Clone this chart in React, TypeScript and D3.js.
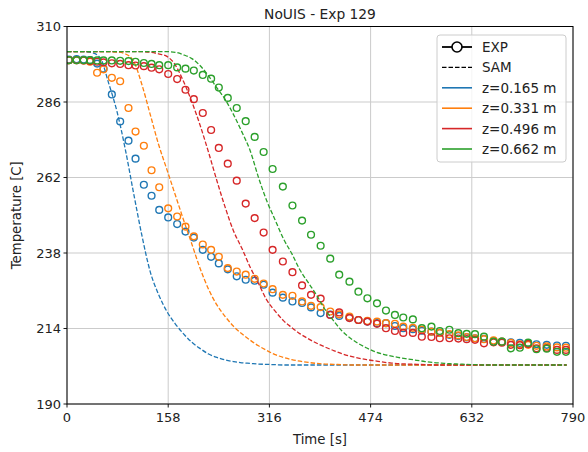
import React from "react";
import * as d3 from "d3";

// ---------- data ----------
const title = "NoUIS - Exp 129";
const xLabel = "Time [s]";
const yLabel = "Temperature [C]";
const xTicks = [0, 158, 316, 474, 632, 790];
const yTicks = [190, 214, 238, 262, 286, 310];
const seriesNames = ["z=0.165 m", "z=0.331 m", "z=0.496 m", "z=0.662 m"];
const seriesColors = ["#1f77b4", "#ff7f0e", "#d62728", "#2ca02c"];

// measurement times (EXP)
const expTime = [
  3, 15, 26, 36, 47, 57, 70, 83, 96, 107,
  120, 132, 144, 158, 172, 185, 198, 212, 225, 237,
  251, 265, 279, 293, 307, 321, 337, 352, 367, 381,
  396, 411, 425, 441, 455, 469, 484, 498, 512, 525,
  540, 554, 569, 582, 597, 611, 624, 637, 651, 666,
  679, 693, 707, 720, 733, 749, 765, 779,
];

const expZ1 = [
  299.5, 299.6, 299.5, 299.3, 298.2, 296.6, 288.4, 279.8, 273.7, 268.0,
  259.7, 256.2, 251.7, 249.3, 247.2, 244.8, 242.9, 239.0, 236.8, 234.7,
  232.8, 230.6, 229.5, 229.2, 227.9, 225.4, 223.8, 222.6, 222.1, 220.7,
  218.9, 218.4, 218.0, 217.5, 216.7, 216.2, 215.7, 215.7, 214.8, 214.1,
  213.8, 213.3, 213.0, 212.6, 212.0, 211.6, 211.2, 210.9, 210.7, 209.8,
  209.8, 209.6, 209.4, 209.2, 209.0, 208.8, 208.6, 208.5,
];
const expZ2 = [
  299.3, 299.3, 299.2, 298.8, 295.3, 296.4, 293.7, 292.6, 284.1, 276.6,
  272.1, 264.3, 258.9, 252.2, 249.6, 246.4, 243.3, 240.7, 239.0, 236.8,
  233.2, 232.1, 231.1, 229.8, 228.3, 226.5, 224.7, 224.4, 222.6, 221.2,
  220.8, 219.4, 218.5, 217.8, 216.7, 216.4, 216.2, 215.7, 215.5, 214.6,
  214.2, 213.6, 213.0, 212.6, 212.2, 211.8, 211.3, 210.9, 210.6, 210.2,
  209.8, 209.4, 209.0, 208.8, 208.5, 208.3, 208.0, 207.9,
];
const expZ3 = [
  299.3, 299.3, 299.2, 299.0, 298.8, 298.6, 298.3, 298.1, 297.7, 297.6,
  297.4, 296.9, 296.4, 294.9, 293.3, 289.9, 286.9, 282.5, 277.1, 271.4,
  266.4, 261.0, 253.7, 249.1, 244.5, 239.0, 235.3, 231.9, 227.7, 224.7,
  223.5, 218.3, 219.1, 217.3, 216.7, 216.2, 215.5, 214.1, 213.2, 212.6,
  212.6, 211.4, 211.3, 210.9, 210.9, 210.8, 210.6, 210.4, 209.3, 209.6,
  209.5, 208.8, 208.7, 209.1, 207.7, 207.8, 207.2, 207.2,
];
const expZ4 = [
  299.3, 299.3, 299.3, 299.3, 299.2, 299.2, 299.2, 299.1, 299.0, 298.8,
  298.4, 298.1, 297.7, 297.7, 297.0, 296.6, 296.0, 294.6, 293.4, 290.6,
  287.3, 284.1, 279.9, 274.9, 270.1, 264.7, 259.1, 253.1, 248.3, 243.8,
  240.3, 236.2, 231.1, 228.9, 225.7, 223.6, 222.0, 219.7, 218.3, 217.5,
  216.9, 214.1, 214.6, 213.2, 213.6, 212.5, 212.3, 212.2, 211.4, 209.8,
  209.8, 207.7, 207.9, 209.5, 207.4, 207.6, 206.6, 206.6,
];

// model times (SAM)
const samTime = [
  0, 13, 26, 39, 52, 65, 78, 91, 104, 117,
  130, 143, 156, 169, 182, 195, 208, 221, 234, 247,
  260, 273, 286, 299, 312, 325, 338, 351, 364, 377,
  390, 403, 416, 429, 442, 455, 468, 481, 494, 507,
  520, 533, 546, 559, 572, 585, 598, 611, 624, 637,
  650, 663, 676, 689, 702, 715, 728, 741, 754, 767,
  780,
];
const samZ1 = [
  302, 302, 302, 301.7, 300, 292, 283, 271, 257, 243.5,
  232, 224.8, 219.4, 215.5, 212.3, 209.6, 207.6, 205.9, 204.8, 204,
  203.5, 203.1, 202.9, 202.7, 202.6, 202.5, 202.4, 202.4, 202.4, 202.4,
  202.4, 202.4, 202.4, 202.4, 202.4, 202.4, 202.4, 202.4, 202.4, 202.4,
  202.4, 202.4, 202.4, 202.4, 202.4, 202.4, 202.4, 202.4, 202.4, 202.4,
  202.4, 202.4, 202.4, 202.4, 202.4, 202.4, 202.4, 202.4, 202.4, 202.4,
  202.4,
];
const samZ2 = [
  302, 302, 302, 302, 302, 302, 301.9, 301.3, 299, 291.5,
  282, 272.5, 264.5, 256.5, 248.5, 240.8, 233, 226.5, 221.5, 217.8,
  214.7, 212.3, 210.3, 208.5, 207, 205.7, 204.8, 204.1, 203.6, 203.2,
  202.9, 202.7, 202.6, 202.5, 202.4, 202.4, 202.4, 202.4, 202.4, 202.4,
  202.4, 202.4, 202.4, 202.4, 202.4, 202.4, 202.4, 202.4, 202.4, 202.4,
  202.4, 202.4, 202.4, 202.4, 202.4, 202.4, 202.4, 202.4, 202.4, 202.4,
  202.4,
];
const samZ3 = [
  302, 302, 302, 302, 302, 302, 302, 302, 302, 302,
  301.8, 301.3, 300.5, 297.8, 292.5, 286, 278.5, 270, 261, 252.5,
  245, 239.5, 233.5, 228.3, 223, 219.5, 216.5, 214.3, 212.3, 210.7,
  209.3, 208.1, 207, 206, 205.2, 204.6, 204.1, 203.7, 203.3, 203,
  202.8, 202.7, 202.6, 202.5, 202.4, 202.4, 202.4, 202.4, 202.4, 202.4,
  202.4, 202.4, 202.4, 202.4, 202.4, 202.4, 202.4, 202.4, 202.4, 202.4,
  202.4,
];
const samZ4 = [
  302, 302, 302, 302, 302, 302, 302, 302, 302, 302,
  302, 302, 302, 301.8, 301, 299.8, 297.5, 294.3, 290.5, 286.8,
  282, 276.5, 270.5, 262, 254.5, 248.5, 242.5, 237.8, 232.5, 228.5,
  224.5, 220, 216.5, 213.3, 211, 209.2, 207.8, 206.6, 205.8, 205.2,
  204.7, 204.3, 203.9, 203.5, 203.2, 203, 202.8, 202.7, 202.6, 202.5,
  202.4, 202.4, 202.4, 202.4, 202.4, 202.4, 202.4, 202.4, 202.4, 202.4,
  202.4,
];

const expSeries = [expZ1, expZ2, expZ3, expZ4];
const samSeries = [samZ1, samZ2, samZ3, samZ4];

// ---------- layout ----------
const W = 588;
const H = 452;
const L = 67;
const R = 573;
const T = 26.5;
const B = 404;
const FONT = "'DejaVu Sans', Verdana, sans-serif";

export default function App() {
  const x = d3.scaleLinear().domain([0, 790]).range([L, R]);
  const y = d3.scaleLinear().domain([190, 310]).range([B, T]);
  const line = d3
    .line<[number, number]>()
    .x((d) => x(d[0]))
    .y((d) => y(d[1]))
    .curve(d3.curveMonotoneX);

  const legendX = 437;
  const legendY = 35;
  const rowH = 20.4;
  const legendItems = [
    { label: "EXP", kind: "exp", color: "#000" },
    { label: "SAM", kind: "sam", color: "#000" },
    ...seriesNames.map((n, i) => ({ label: n, kind: "line", color: seriesColors[i] })),
  ];

  return (
    <svg
      width={W}
      height={H}
      style={{ position: "absolute", left: 0, top: 0, background: "#fff" }}
      fontFamily={FONT}
    >
      <rect x={0} y={0} width={W} height={H} fill="#fff" />
      <defs>
        <clipPath id="plot">
          <rect x={L} y={T} width={R - L} height={B - T} />
        </clipPath>
      </defs>

      {/* grid */}
      {xTicks.map((t) => (
        <line key={"gx" + t} x1={x(t)} x2={x(t)} y1={T} y2={B} stroke="#cbcbcb" strokeWidth={1} />
      ))}
      {yTicks.map((t) => (
        <line key={"gy" + t} x1={L} x2={R} y1={y(t)} y2={y(t)} stroke="#cbcbcb" strokeWidth={1} />
      ))}

      {/* data */}
      <g clipPath="url(#plot)">
        {expSeries.map((vals, si) => (
          <g key={"s" + si}>
            {vals.map((v, i) => (
              <circle
                key={i}
                cx={x(expTime[i])}
                cy={y(v)}
                r={3.4}
                fill="none"
                stroke={seriesColors[si]}
                strokeWidth={1.4}
              />
            ))}
            <path
              d={line(samTime.map((t, i) => [t, samSeries[si][i]]) as [number, number][]) || ""}
              fill="none"
              stroke={seriesColors[si]}
              strokeWidth={1.3}
              strokeDasharray="4.5,2"
            />
          </g>
        ))}
      </g>

      {/* spines */}
      <rect x={L} y={T} width={R - L} height={B - T} fill="none" stroke="#000" strokeWidth={1} />

      {/* ticks */}
      {xTicks.map((t) => (
        <g key={"tx" + t}>
          <line x1={x(t)} x2={x(t)} y1={B} y2={B + 3.5} stroke="#000" strokeWidth={0.9} />
          <text x={x(t)} y={B + 17.5} fontSize={13} textAnchor="middle" fill="#222">
            {t}
          </text>
        </g>
      ))}
      {yTicks.map((t) => (
        <g key={"ty" + t}>
          <line x1={L - 3.5} x2={L} y1={y(t)} y2={y(t)} stroke="#000" strokeWidth={0.9} />
          <text x={L - 6} y={y(t) + 4.6} fontSize={13} textAnchor="end" fill="#222">
            {t}
          </text>
        </g>
      ))}

      {/* labels */}
      <text x={(L + R) / 2} y={444} fontSize={13.3} textAnchor="middle" fill="#222">
        {xLabel}
      </text>
      <text
        transform={`translate(21, ${(T + B) / 2}) rotate(-90)`}
        fontSize={13.3}
        textAnchor="middle"
        fill="#222"
      >
        {yLabel}
      </text>
      <text x={(L + R) / 2} y={19} fontSize={13.8} textAnchor="middle" fill="#222">
        {title}
      </text>

      {/* legend */}
      <rect
        x={legendX}
        y={legendY}
        width={129}
        height={127}
        rx={3}
        fill="#fff"
        fillOpacity={0.8}
        stroke="#cccccc"
        strokeWidth={1}
      />
      {legendItems.map((it, i) => {
        const cy = legendY + 12 + i * rowH;
        return (
          <g key={"lg" + i}>
            {it.kind === "exp" && (
              <>
                <line x1={442} x2={472} y1={cy} y2={cy} stroke="#000" strokeWidth={1.8} />
                <circle cx={457} cy={cy} r={5} fill="#fff" stroke="#000" strokeWidth={1.6} />
              </>
            )}
            {it.kind === "sam" && (
              <line x1={442} x2={472} y1={cy} y2={cy} stroke="#000" strokeWidth={1.4} strokeDasharray="4.5,2" />
            )}
            {it.kind === "line" && (
              <line x1={442} x2={472} y1={cy} y2={cy} stroke={it.color} strokeWidth={1.6} />
            )}
            <text x={482} y={cy + 5} fontSize={13.5} fill="#222">
              {it.label}
            </text>
          </g>
        );
      })}
    </svg>
  );
}
